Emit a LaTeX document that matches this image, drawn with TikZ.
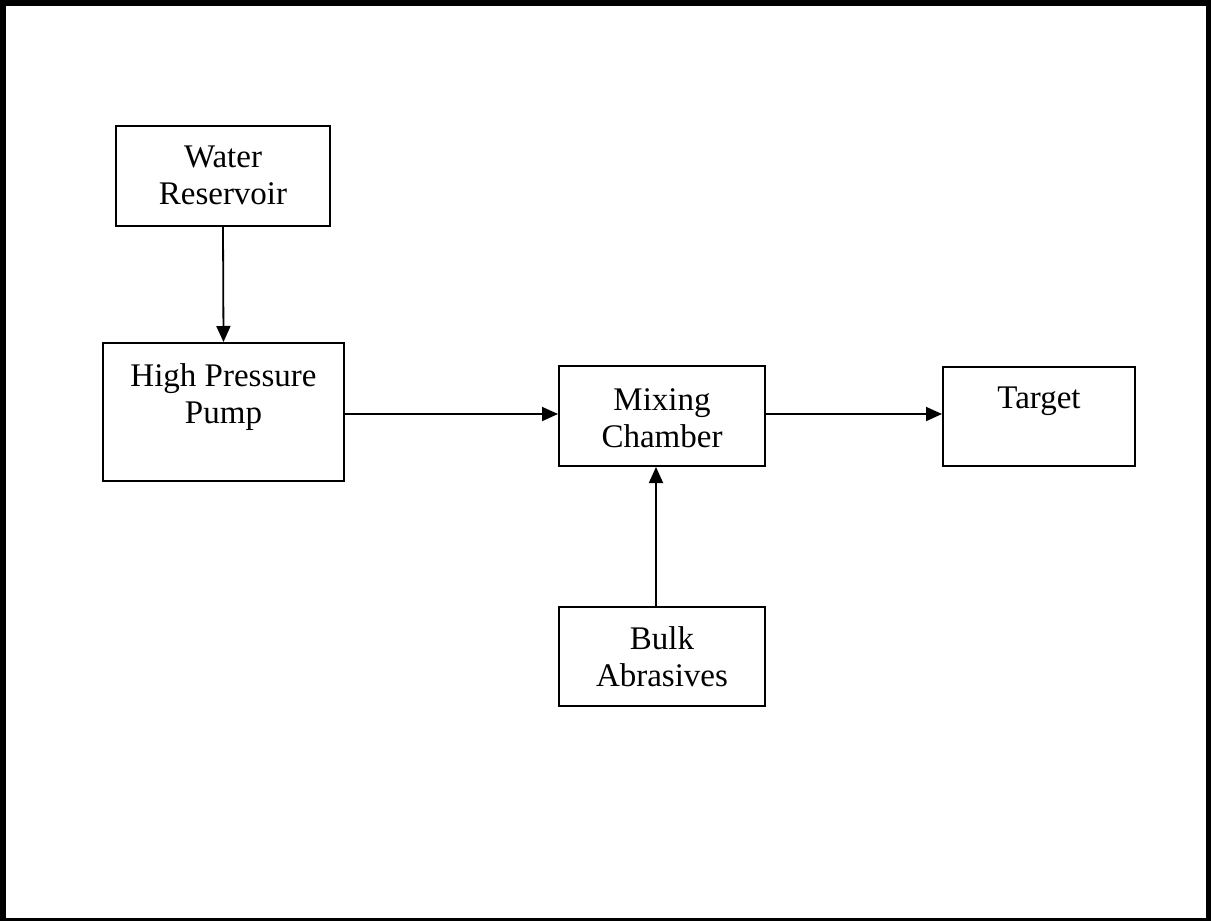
\documentclass[tikz,border=0pt]{standalone}
\usepackage{fontspec}
\setmainfont{Liberation Serif}
\usetikzlibrary{arrows.meta}
\begin{document}
\begin{tikzpicture}[x=1pt,y=-1pt,
  box/.style={draw, line width=2pt, inner sep=0pt, anchor=north west},
  lbl/.style={anchor=north, inner sep=0pt, align=center, font=\fontsize{33}{37}\selectfont},
  conn/.style={line width=1.8pt, -{Triangle[length=16pt,width=14pt]}}]
\useasboundingbox (0,0) rectangle (1211,921);
\begin{scope}
  \clip (0,0) rectangle (1211,921);
  \draw[line width=6pt] (3,3) rectangle (1209,921);
\end{scope}
% boxes
\node[box, minimum width=214pt, minimum height=100pt] (wr) at (115,125) {};
\node[box, minimum width=241pt, minimum height=138pt] (hpp) at (102,342) {};
\node[box, minimum width=206pt, minimum height=100pt] (mc) at (558,365) {};
\node[box, minimum width=192pt, minimum height=99pt] (tg) at (942,366) {};
\node[box, minimum width=206pt, minimum height=99pt] (ba) at (558,606) {};
% labels
\node[lbl] (wrt) at ([yshift=-21pt]wr.north) {Water\\Reservoir};
\node[lbl] (hppt) at ([yshift=-21pt]hpp.north) {High Pressure\\Pump};
\node[lbl] (mct) at ([yshift=-23pt]mc.north) {Mixing\\Chamber};
\node[lbl] (tgt) at ([yshift=-21pt]tg.north) {Target};
\node[lbl] (bat) at ([yshift=-20pt]ba.north) {Bulk\\Abrasives};
% connectors
\draw[conn] (wr.south) -- (hpp.north);
\draw[conn] ([yshift=2pt]hpp.east |- mc.west) -- ([yshift=2pt]mc.west);
\draw[conn] ([yshift=2pt]mc.east) -- ([yshift=2pt]tg.west |- mc.east);
\draw[conn] ([xshift=-6pt]ba.north) -- ([xshift=-6pt]mc.south);
\end{tikzpicture}
\end{document}
